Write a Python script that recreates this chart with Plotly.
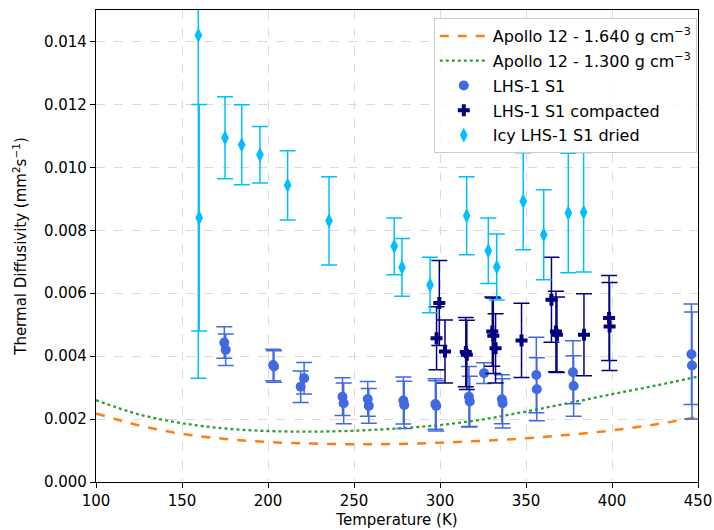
import plotly.graph_objects as go

# Apollo 12 model curves (read at 25 K steps)
curve_T = [100, 125, 150, 175, 200, 225, 250, 275, 300, 325, 350, 375, 400, 425, 450]
apollo_1640 = [0.00218, 0.00180, 0.00153, 0.00137, 0.00127, 0.00122, 0.00120, 0.00121,
               0.00125, 0.00131, 0.00139, 0.00150, 0.00164, 0.00183, 0.00206]
apollo_1300 = [0.00260, 0.00215, 0.00187, 0.00170, 0.00162, 0.00160, 0.00163, 0.00170,
               0.00181, 0.00199, 0.00224, 0.00251, 0.00279, 0.00306, 0.00335]

# LHS-1 S1
s1_T = [174.6, 175.4, 203.0, 203.5, 219.0, 221.0, 243.3, 244.0, 258.0, 258.6, 278.7, 279.2,
        297.3, 297.8, 316.8, 317.3, 325.6, 336.0, 336.4, 356.0, 356.3, 377.3, 377.7, 446.2, 446.5]
s1_y = [0.00443, 0.00420, 0.00372, 0.00367, 0.00303, 0.00330, 0.00271, 0.00250, 0.00264, 0.00242,
        0.00259, 0.00245, 0.00248, 0.00242, 0.00271, 0.00256, 0.00346, 0.00263, 0.00250,
        0.00340, 0.00295, 0.00349, 0.00305, 0.00406, 0.00370]
s1_err = [0.00050, 0.00050, 0.00050, 0.00050, 0.00050, 0.00050, 0.00060, 0.00065, 0.00055, 0.00055,
          0.00075, 0.00075, 0.00080, 0.00080, 0.00096, 0.00080, 0.00033, 0.00078, 0.00078,
          0.00120, 0.00100, 0.00100, 0.00096, 0.00160, 0.00170]

# LHS-1 S1 compacted
comp_T = [299.6, 298.0, 302.9, 315.0, 315.6, 330.4, 331.0, 332.3, 347.4, 364.8, 367.4, 368.0,
          383.7, 398.3, 398.6]
comp_y = [0.00569, 0.00457, 0.00415, 0.00413, 0.00404, 0.00478, 0.00465, 0.00425, 0.00450,
          0.00579, 0.00478, 0.00468, 0.00468, 0.00521, 0.00494]
comp_err = [0.00135, 0.00100, 0.00100, 0.00110, 0.00110, 0.00110, 0.00120, 0.00110, 0.00118,
            0.00135, 0.00128, 0.00120, 0.00130, 0.00135, 0.00140]

# Icy LHS-1 S1 dried
icy_T = [159.5, 160.0, 175.0, 184.7, 195.3, 211.4, 235.5, 273.4, 277.9, 294.2, 315.5, 328.1,
         333.0, 348.4, 360.3, 374.6, 383.5]
icy_y = [0.01420, 0.00840, 0.01094, 0.01072, 0.01040, 0.00943, 0.00830, 0.00749, 0.00682,
         0.00626, 0.00846, 0.00735, 0.00683, 0.00892, 0.00786, 0.00855, 0.00857]
icy_err = [0.01090, 0.00360, 0.00130, 0.00127, 0.00090, 0.00110, 0.00140, 0.00090, 0.00092,
           0.00088, 0.00124, 0.00104, 0.00105, 0.00154, 0.00143, 0.00190, 0.00190]

x_ticks = [100, 150, 200, 250, 300, 350, 400, 450]
y_ticks = [0.000, 0.002, 0.004, 0.006, 0.008, 0.010, 0.012, 0.014]

FONT = "DejaVu Sans"

fig = go.Figure()
fig.add_trace(go.Scatter(x=curve_T, y=apollo_1640, mode="lines", line_shape="spline",
                         line=dict(color="#ff7f0e", width=2.5, dash="dash"),
                         name="Apollo 12 - 1.640 g cm<sup>−3</sup>", legendgroup="a"))
fig.add_trace(go.Scatter(x=curve_T, y=apollo_1300, mode="lines", line_shape="spline",
                         line=dict(color="#2ca02c", width=2.3, dash="dot"),
                         name="Apollo 12 - 1.300 g cm<sup>−3</sup>", legendgroup="b"))

def err_trace(x, y, e, color, symbol, size, name, grp):
    return go.Scatter(
        x=x, y=y, mode="markers", name=name, legendgroup=grp,
        marker=dict(color=color, symbol=symbol, size=size, line=dict(width=0)),
        error_y=dict(type="data", array=e, visible=True, color=color, thickness=1.5, width=8),
    )

fig.add_trace(err_trace(s1_T, s1_y, s1_err, "#4169E1", "circle", 10, "LHS-1 S1", "c"))
fig.add_trace(err_trace(comp_T, comp_y, comp_err, "#000080", "cross", 10, "LHS-1 S1 compacted", "d"))
fig.add_trace(err_trace(icy_T, icy_y, icy_err, "#00BFFF", "diamond-tall", 11, "Icy LHS-1 S1 dried", "e"))

axis_common = dict(
    showline=True, linecolor="black", linewidth=1.3, mirror=True,
    ticks="outside", ticklen=5, tickwidth=1.2, tickcolor="black",
    showgrid=True, gridcolor="#dadada", griddash="dash", gridwidth=1,
    zeroline=False, tickfont=dict(family=FONT, size=15, color="black"),
    automargin=False,
)

fig.update_xaxes(range=[100, 450], tickvals=x_ticks, ticktext=[str(v) for v in x_ticks],
                 title=dict(text="Temperature (K)", font=dict(family=FONT, size=15, color="black"),
                            standoff=5),
                 **axis_common)
fig.update_yaxes(range=[0, 0.015], tickvals=y_ticks, ticktext=[f"{v:.3f}" for v in y_ticks],
                 title=dict(text="Thermal Diffusivity (mm<sup>2</sup>s<sup>−1</sup>)",
                            font=dict(family=FONT, size=15, color="black"), standoff=13),
                 **axis_common)

fig.update_layout(
    width=714, height=530,
    margin=dict(l=96, r=16, t=10, b=48),
    plot_bgcolor="white", paper_bgcolor="white",
    font=dict(family=FONT, color="black"),
    legend=dict(x=0.998, y=0.983, xanchor="right", yanchor="top",
                bgcolor="rgba(255,255,255,0.85)", bordercolor="#cccccc", borderwidth=1,
                font=dict(family=FONT, size=16, color="black"),
                traceorder="grouped", tracegroupgap=1, itemwidth=48),
    showlegend=True,
)

fig.write_html("out.html")
